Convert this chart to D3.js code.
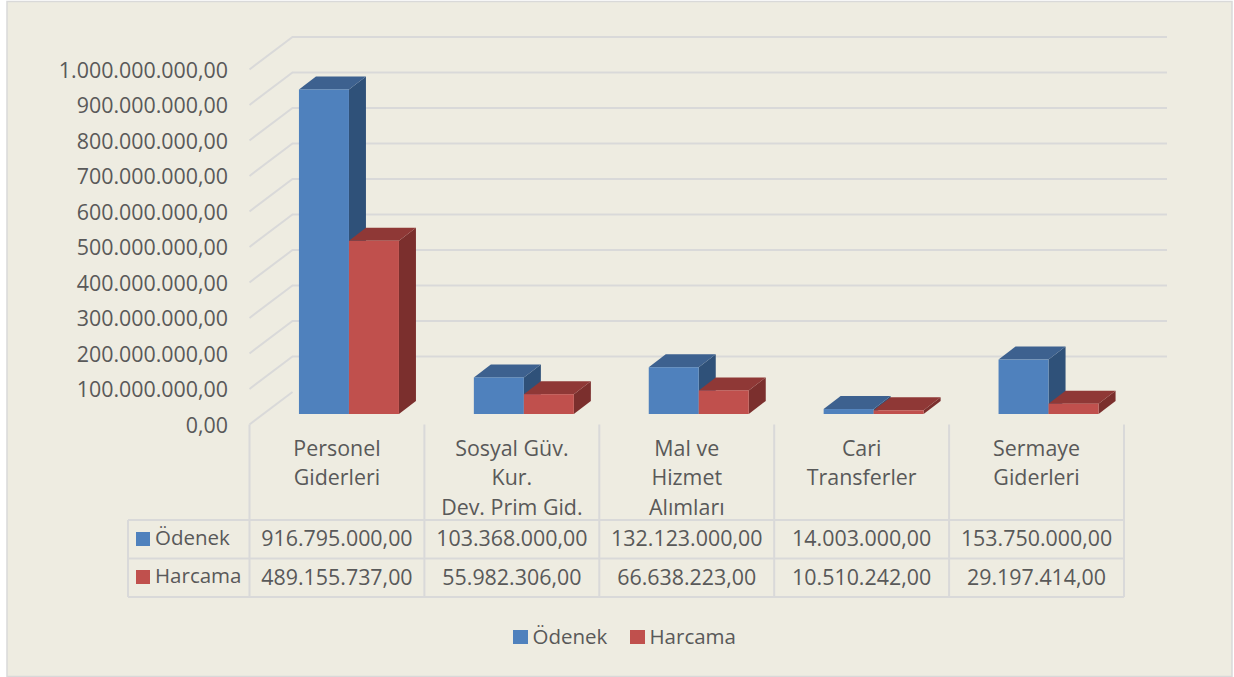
<!DOCTYPE html>
<html><head><meta charset="utf-8">
<script src="https://cdn.jsdelivr.net/npm/d3@7/dist/d3.min.js"></script>
<style>html,body{margin:0;background:#fff}svg{display:block}text{font-family:"Open Sans",sans-serif;fill:#595959;font-size:21.4px}text.k{font-size:20.5px}</style>
</head><body><svg id="c" width="1234" height="677"></svg>
<script>
const categories=[["Personel","Giderleri"],["Sosyal Güv.","Kur.","Dev. Prim Gid."],["Mal ve","Hizmet","Alımları"],["Cari","Transferler"],["Sermaye","Giderleri"]];
const seriesNames=["Ödenek","Harcama"];
const odenek=[916795000,103368000,132123000,14003000,153750000];
const harcama=[489155737,55982306,66638223,10510242,29197414];
const yTicks=[0,1e8,2e8,3e8,4e8,5e8,6e8,7e8,8e8,9e8,1e9];
const colors={front:["#4F81BD","#C0504D"],top:["#3D618F","#8F3836"],side:["#2F5179","#7B2F2D"]};

const fmt=d3.formatLocale({decimal:",",thousands:".",grouping:[3],currency:["",""]}).format(",.2f");
const svg=d3.select("#c");
svg.append("rect").attr("x",7).attr("y",1.5).attr("width",1225).attr("height",675).attr("fill","#EEECE1").attr("stroke","#D9D9D9").attr("stroke-width",1.5);

const x=d3.scaleBand().domain(d3.range(categories.length)).range([249.5,1124]);
const y=d3.scaleLinear().domain([0,1e9]).range([414,60]);
const yWall=d3.scaleLinear().domain([0,1e9]).range([424.5,69.5]);
const wallDX=43, wallDY=32.5, backRight=1167;
const barDX=17, barDY=13, barW=50, barShift=12;

const gridC="#D9D9D9";
const g=svg.append("g").attr("fill","none").attr("stroke",gridC).attr("stroke-width",2);
g.selectAll("path").data(yTicks).join("path")
 .attr("d",d=>{const a=yWall(d);return d===0?`M${x.range()[0]},${a}L${x.range()[0]+wallDX},${a-wallDY}`:
   `M${x.range()[0]},${a}L${x.range()[0]+wallDX},${a-wallDY}H${backRight}`;});

const series=[odenek,harcama];
const bars=svg.append("g");
categories.forEach((c,i)=>{
  series.forEach((s,k)=>{
    const x0=x(i)+x.bandwidth()/2-barW+barShift+k*barW, x1=x0+barW, yt=y(s[i]), yb=y(0);
    const gb=bars.append("g");
    gb.append("path").attr("d",`M${x1},${yt}L${x1+barDX},${yt-barDY}V${yb-barDY}L${x1},${yb}Z`).attr("fill",colors.side[k]);
    gb.append("path").attr("d",`M${x0},${yt}L${x0+barDX},${yt-barDY}H${x1+barDX}L${x1},${yt}Z`).attr("fill",colors.top[k]);
    gb.append("rect").attr("x",x0).attr("y",yt).attr("width",barW).attr("height",yb-yt).attr("fill",colors.front[k]);
  });
});
svg.append("g").selectAll("text").data(yTicks).join("text")
  .attr("x",228).attr("y",d=>yWall(d)+8).attr("text-anchor","end").text(d=>fmt(d));

const tableTop=520,rowH=38.5,tableLeft=128;
const t=svg.append("g").attr("stroke",gridC).attr("stroke-width",2);
x.domain().concat(categories.length).forEach(i=>{
  const xx=i<categories.length?x(i):x.range()[1];
  t.append("line").attr("x1",xx).attr("x2",xx).attr("y1",424.5).attr("y2",tableTop+2*rowH);
});
t.append("line").attr("x1",tableLeft).attr("x2",tableLeft).attr("y1",tableTop).attr("y2",tableTop+2*rowH);
[0,1,2].forEach(r=>t.append("line").attr("x1",tableLeft).attr("x2",x.range()[1]).attr("y1",tableTop+r*rowH).attr("y2",tableTop+r*rowH));

categories.forEach((c,i)=>{
  c.forEach((l,j)=>svg.append("text").attr("x",x(i)+x.bandwidth()/2).attr("y",455.5+j*29.5).attr("text-anchor","middle").text(l));
  series.forEach((s,k)=>svg.append("text").attr("x",x(i)+x.bandwidth()/2).attr("y",545.5+k*39).attr("text-anchor","middle").text(fmt(s[i])));
});
seriesNames.forEach((n,k)=>{
  const yy=532+k*38;
  svg.append("rect").attr("x",136).attr("y",yy).attr("width",14).attr("height",14).attr("fill",colors.front[k]);
  svg.append("text").attr("class","k").attr("x",155).attr("y",yy+13).text(n);
});
const legX=[513,630];
seriesNames.forEach((n,k)=>{
  svg.append("rect").attr("x",legX[k]).attr("y",630).attr("width",15).attr("height",14).attr("fill",colors.front[k]);
  svg.append("text").attr("class","k").attr("x",legX[k]+19.5).attr("y",644).text(n);
});
</script></body></html>
